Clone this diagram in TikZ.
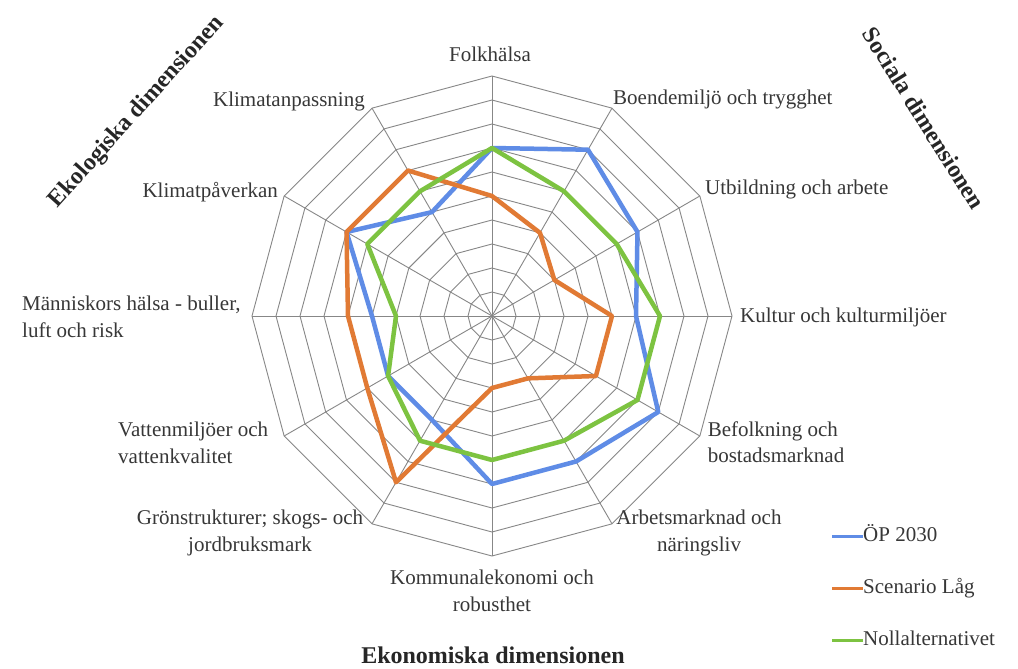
\documentclass[tikz,border=0pt]{standalone}
\usepackage{fontspec}
\setmainfont{Liberation Serif}
\definecolor{opblue}{RGB}{95,140,230}
\definecolor{scorange}{RGB}{225,122,52}
\definecolor{nollgreen}{RGB}{125,195,65}
\definecolor{gridgray}{RGB}{135,135,135}
\definecolor{labelgray}{RGB}{55,55,55}
\begin{document}
\begin{tikzpicture}[x=1pt,y=-1pt,
  grid/.style={draw=gridgray, line width=0.9pt},
  series/.style={line width=4.5pt, line join=round},
  legline/.style={line width=3pt},
  lbl/.style={font=\fontsize{21}{26.5}\selectfont, text=labelgray, inner sep=0pt},
  legtext/.style={lbl, text height=14pt, text depth=4pt},
  dimlbl/.style={font=\fontsize{24}{28}\selectfont\bfseries, text=black!85, inner sep=0pt}
]
\fill[white] (0,0) rectangle (1018,669);
\useasboundingbox (0,0) rectangle (1018,669);

\begin{scope}[shift={(492,316)}]
  % rings
  \foreach \k in {1,...,10} {
    \draw[grid] (-90:\k*24) -- (-60:\k*24) -- (-30:\k*24) -- (0:\k*24)
      -- (30:\k*24) -- (60:\k*24) -- (90:\k*24) -- (120:\k*24)
      -- (150:\k*24) -- (180:\k*24) -- (210:\k*24) -- (240:\k*24) -- cycle;
  }
  % spokes
  \foreach \i in {0,...,11} {
    \draw[grid] (0,0) -- (-90+30*\i:240);
  }
  % OP 2030
  \draw[series, draw=opblue] (-90:168) -- (-60:192) -- (-30:168) -- (0:144)
    -- (30:192) -- (60:168) -- (90:168) -- (120:120) -- (150:120)
    -- (180:120) -- (210:168) -- (240:120) -- cycle;
  % Scenario Lag
  \draw[series, draw=scorange] (-90:120) -- (-60:96) -- (-30:72) -- (0:120)
    -- (30:120) -- (60:72) -- (90:72) -- (120:192) -- (150:144)
    -- (180:144) -- (210:168) -- (240:168) -- cycle;
  % Nollalternativet
  \draw[series, draw=nollgreen] (-90:168) -- (-60:144) -- (-30:144) -- (0:168)
    -- (30:168) -- (60:144) -- (90:144) -- (120:144) -- (150:120)
    -- (180:96) -- (210:144) -- (240:144) -- cycle;
\end{scope}

% axis labels
\node[lbl] (folk) at (490,54) {Folkhälsa};
\node[lbl, anchor=west] (boende) at (613,99) {Boendemiljö och trygghet};
\node[lbl, anchor=west] (utb) at (705,189) {Utbildning och arbete};
\node[lbl, anchor=west] (kultur) at (740,317) {Kultur och kulturmiljöer};
\node[lbl, align=left] (befolk) at (776,442) {Befolkning och\\bostadsmarknad};
\node[lbl, align=center] (arbets) at (699,533) {Arbetsmarknad och\\näringsliv};
\node[lbl, align=center] (kommun) at (492,591) {Kommunalekonomi och\\robusthet};
\node[lbl, align=center] (gron) at (250,533) {Grönstrukturer; skogs- och\\jordbruksmark};
\node[lbl, align=left, anchor=west] (vatten) at (118,443) {Vattenmiljöer och\\vattenkvalitet};
\node[lbl, align=left, anchor=west] (manni) at (22,317) {Människors hälsa - buller,\\luft och risk};
\node[lbl, anchor=east] (klimpav) at (278,192) {Klimatpåverkan};
\node[lbl, anchor=east] (klimanp) at (365,101) {Klimatanpassning};

% dimension labels
\node[dimlbl, rotate=48] (ekol) at (137,112) {Ekologiska dimensionen};
\node[dimlbl, rotate=-58] (soc) at (924,118) {Sociala dimensionen};
\node[dimlbl] (ekon) at (493,655) {Ekonomiska dimensionen};

% legend
\node[legtext, anchor=west] (lgop) at (863,536) {ÖP 2030};
\node[legtext, anchor=west] (lgsc) at (863,588) {Scenario Låg};
\node[legtext, anchor=west] (lgno) at (863,640) {Nollalternativet};
\coordinate (lgops) at (832,536);
\coordinate (lgscs) at (832,588);
\coordinate (lgnos) at (832,640);
\draw[legline, draw=opblue] (lgops) -- (lgop.west);
\draw[legline, draw=scorange] (lgscs) -- (lgsc.west);
\draw[legline, draw=nollgreen] (lgnos) -- (lgno.west);
\end{tikzpicture}
\end{document}
